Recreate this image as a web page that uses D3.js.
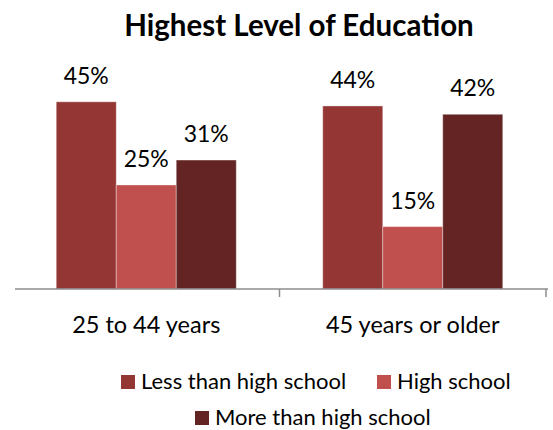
<!DOCTYPE html>
<html>
<head>
<meta charset="utf-8">
<script src="https://cdn.jsdelivr.net/npm/d3@7/dist/d3.min.js"></script>
<style>
  html, body { margin: 0; padding: 0; background: #fff; }
  svg { display: block; font-family: Lato, "Open Sans", sans-serif; }
</style>
</head>
<body>
<svg id="chart" width="553" height="430"></svg>
<script>
// Age groups on the category axis
const categories = ["25 to 44 years", "45 years or older"];
// Education levels (one bar per level in each group)
const seriesNames = ["Less than high school", "High school", "More than high school"];
const seriesColors = ["#943634", "#c0504d", "#632423"];
// Share of each age group, per education level
const lessThanHS = [0.45, 0.44];
const highSchool = [0.25, 0.15];
const moreThanHS = [0.31, 0.42];
const seriesValues = [lessThanHS, highSchool, moreThanHS];

const svg = d3.select("#chart");
const baseY = 289;

const x0 = d3.scaleBand().domain(categories).range([15, 548]);
const x1 = d3.scaleBand().domain(seriesNames).range([0, 180]);
const y = d3.scaleLinear().domain([0, 0.5]).range([baseY, 81]);
const fmt = d3.format(".0%");

// Title
svg.append("text")
  .attr("x", 299).attr("y", 36)
  .attr("text-anchor", "middle")
  .attr("font-weight", "bold")
  .attr("font-size", 29.5)
  .attr("fill", "#000")
  .text("Highest Level of Education");

// Bars and value labels
const groups = svg.selectAll("g.grp")
  .data(categories)
  .join("g")
  .attr("class", "grp")
  .attr("transform", c => `translate(${x0(c) + x0.bandwidth() / 2 - 90 - 2},0)`);

groups.each(function (c, ci) {
  const g = d3.select(this);
  const rows = seriesNames.map((s, si) => ({ s, si, v: seriesValues[si][ci] }));
  g.selectAll("rect")
    .data(rows)
    .join("rect")
    .attr("x", d => x1(d.s))
    .attr("width", x1.bandwidth())
    .attr("y", d => y(d.v))
    .attr("height", d => baseY - y(d.v))
    .attr("fill", d => seriesColors[d.si])
    .attr("stroke", "rgba(255,255,255,0.35)")
    .attr("stroke-width", 1);
  g.selectAll("text")
    .data(rows)
    .join("text")
    .attr("x", d => x1(d.s) + x1.bandwidth() / 2)
    .attr("y", d => y(d.v) - 18)
    .attr("text-anchor", "middle")
    .attr("font-size", 23)
    .attr("fill", "#000")
    .text(d => fmt(d.v));
});

// Category axis: baseline, tick marks between groups, and group labels
const axis = svg.append("g").attr("transform", `translate(0,${baseY})`);
axis.append("line")
  .attr("x1", x0.range()[0]).attr("x2", x0.range()[1])
  .attr("stroke", "#8c8c8c").attr("stroke-width", 1.5);
const boundaries = categories.map(c => x0(c) + x0.bandwidth()).map(v => v - 2);
axis.selectAll("line.tick")
  .data(boundaries)
  .join("line")
  .attr("class", "tick")
  .attr("x1", d => d).attr("x2", d => d)
  .attr("y1", 0).attr("y2", 8)
  .attr("stroke", "#8c8c8c").attr("stroke-width", 1.5);
axis.selectAll("text")
  .data(categories)
  .join("text")
  .attr("x", c => x0(c) + x0.bandwidth() / 2 - 2)
  .attr("y", 44)
  .attr("text-anchor", "middle")
  .attr("font-size", 23.5)
  .attr("fill", "#000")
  .text(c => c);

// Legend
const legendItems = [
  { i: 0, x: 121, y: 375 },
  { i: 1, x: 377, y: 375 },
  { i: 2, x: 195, y: 411 }
];
const legend = svg.append("g");
legendItems.forEach(it => {
  legend.append("rect")
    .attr("x", it.x).attr("y", it.y)
    .attr("width", 14).attr("height", 14)
    .attr("fill", seriesColors[it.i]);
  legend.append("text")
    .attr("x", it.x + 20).attr("y", it.y + 14)
    .attr("font-size", 22)
    .attr("fill", "#000")
    .text(seriesNames[it.i]);
});
</script>
</body>
</html>
